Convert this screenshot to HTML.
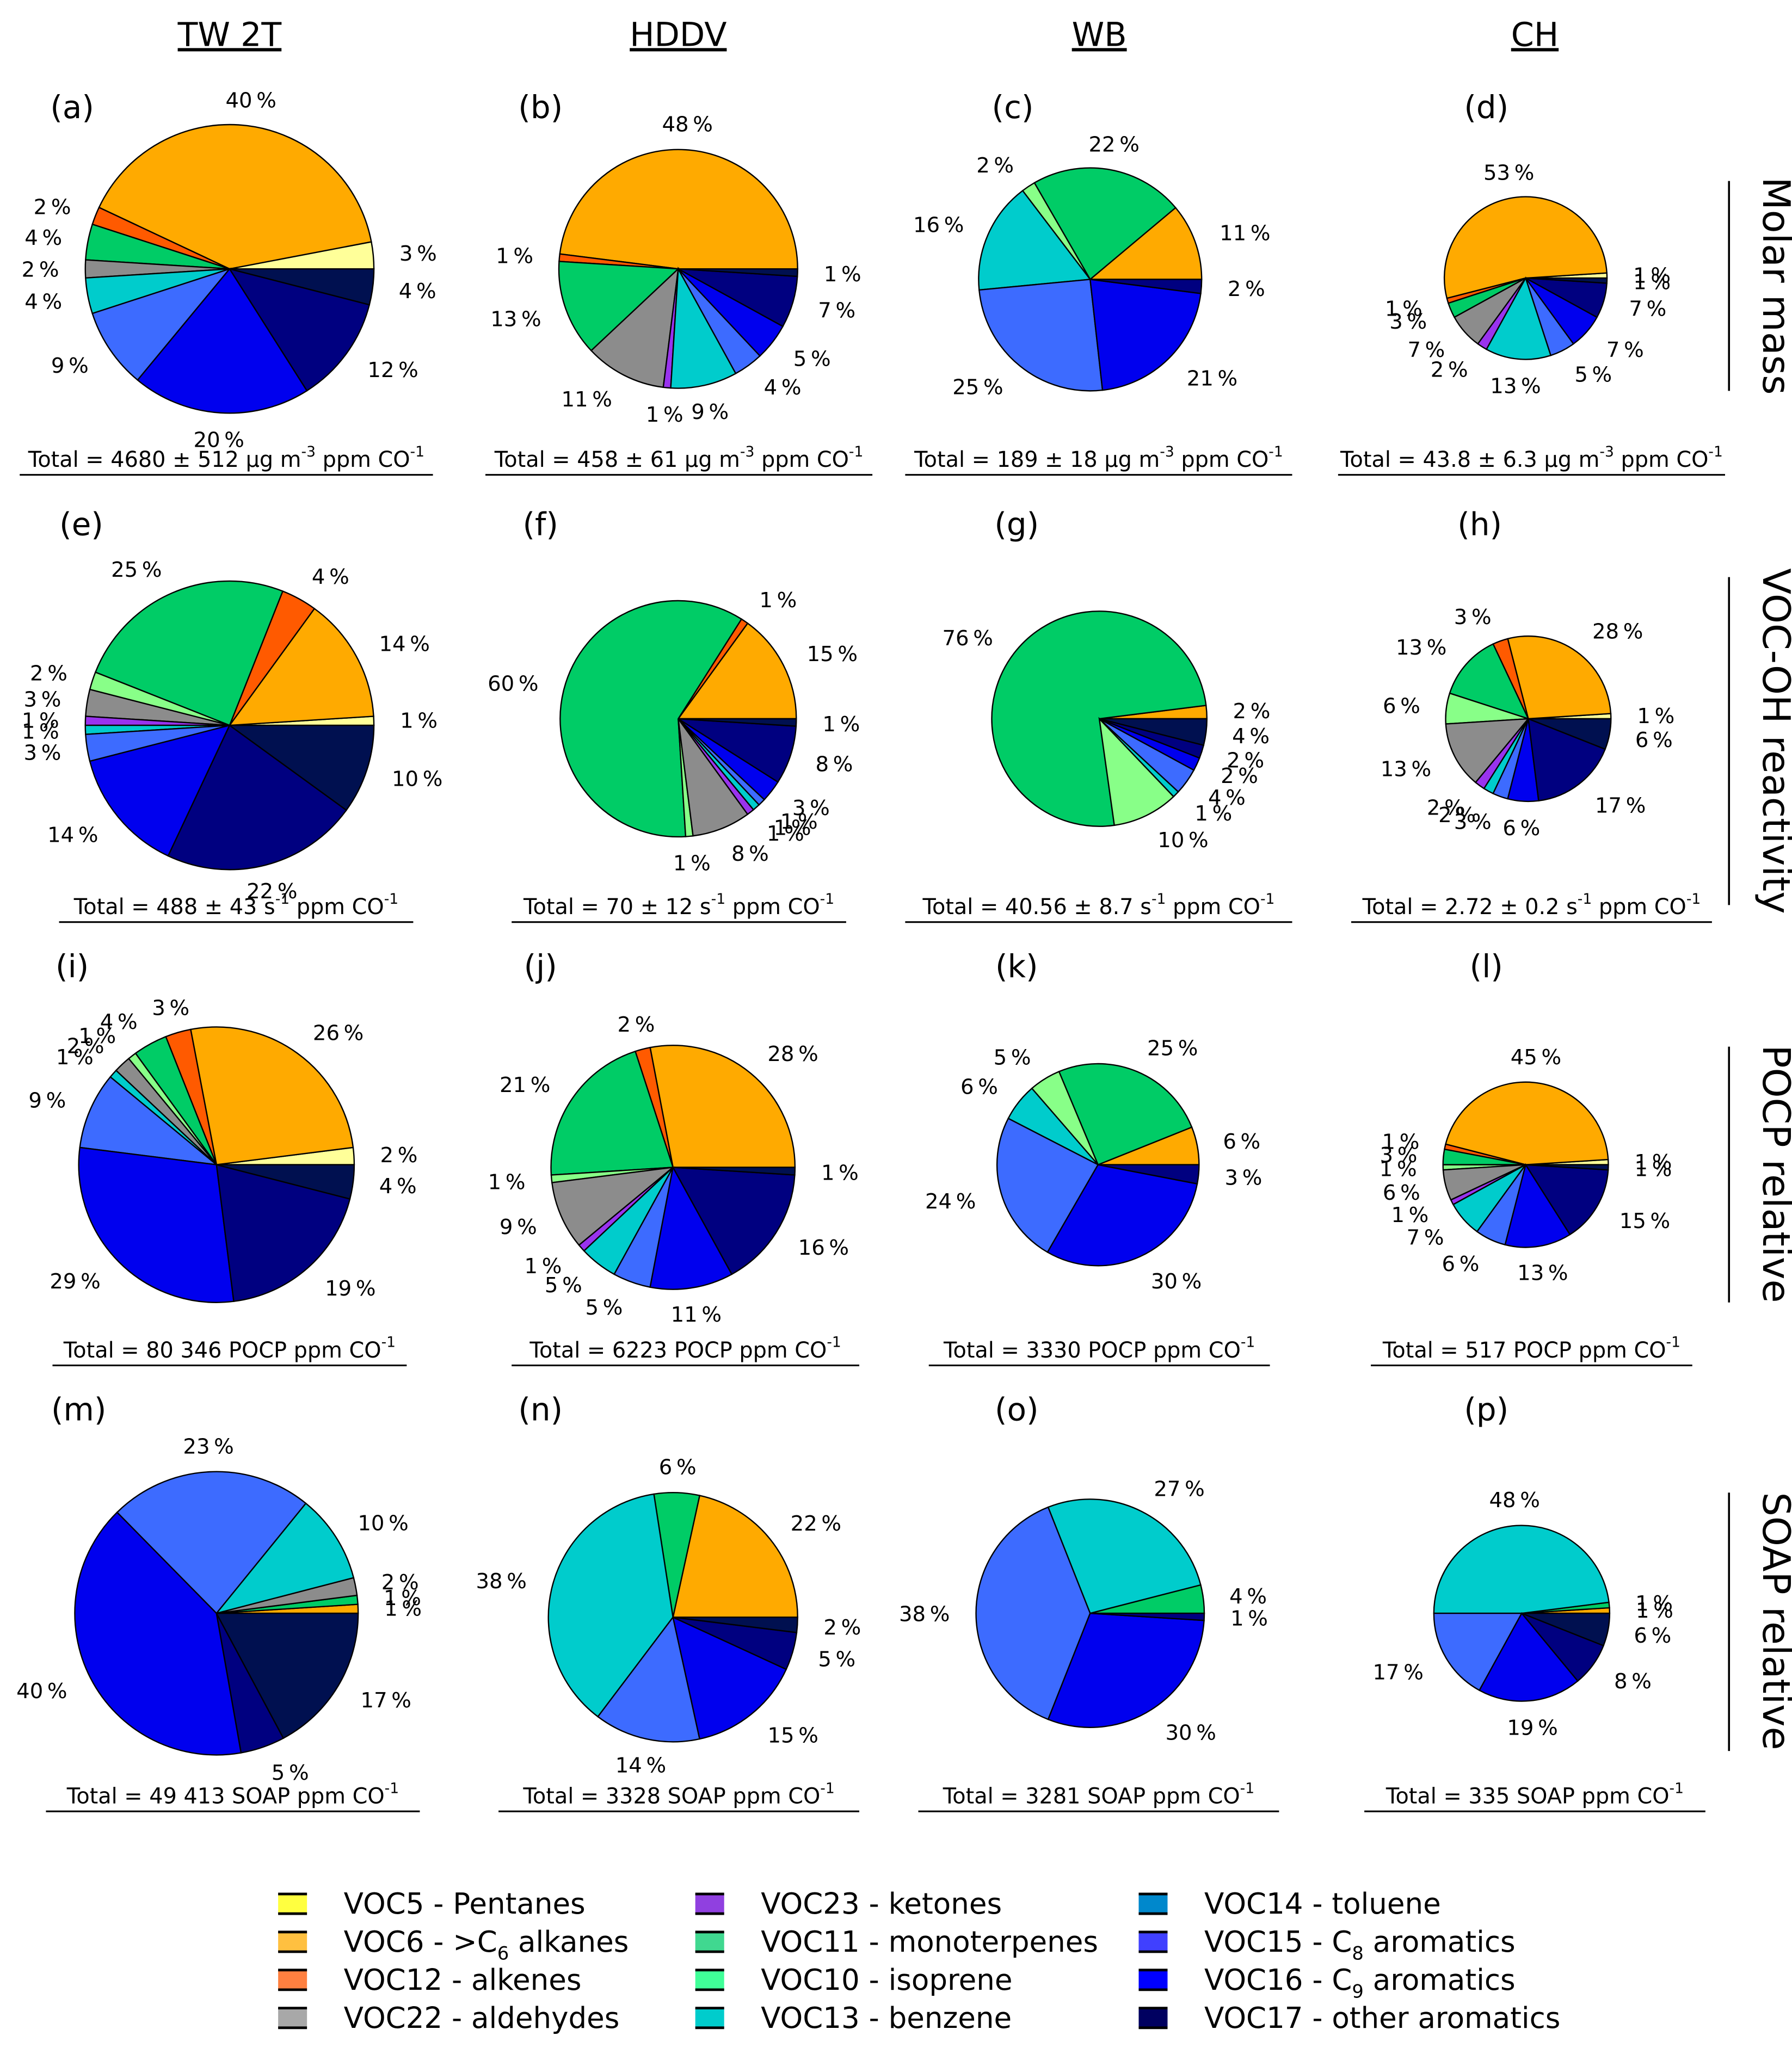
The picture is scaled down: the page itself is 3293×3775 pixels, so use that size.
<!DOCTYPE html>
<html><head><meta charset="utf-8"><style>
html,body{margin:0;padding:0;background:#fff}
svg{display:block}
text{font-family:"DejaVu Sans","Liberation Sans",sans-serif}
</style></head><body>
<svg id="fig" width="3293" height="3775" viewBox="0 0 1366 1566" xmlns="http://www.w3.org/2000/svg">
<g id="headers">
<text x="175" y="35" font-size="25" text-anchor="middle" text-decoration="underline">TW 2T</text>
<text x="517" y="35" font-size="25" text-anchor="middle" text-decoration="underline">HDDV</text>
<text x="838" y="35" font-size="25" text-anchor="middle" text-decoration="underline">WB</text>
<text x="1170" y="35" font-size="25" text-anchor="middle" text-decoration="underline">CH</text>
</g>
<g id="rowtitles">
<text transform="translate(1344,218) rotate(90)" font-size="29" text-anchor="middle">Molar mass</text>
<line x1="1318" y1="138" x2="1318" y2="298" stroke="#000" stroke-width="1.5"/>
<text transform="translate(1344,565) rotate(90)" font-size="29" text-anchor="middle">VOC-OH reactivity</text>
<line x1="1318" y1="440" x2="1318" y2="690" stroke="#000" stroke-width="1.5"/>
<text transform="translate(1344,895) rotate(90)" font-size="29" text-anchor="middle">POCP relative</text>
<line x1="1318" y1="798" x2="1318" y2="993" stroke="#000" stroke-width="1.5"/>
<text transform="translate(1344,1236) rotate(90)" font-size="29" text-anchor="middle">SOAP relative</text>
<line x1="1318" y1="1138" x2="1318" y2="1335" stroke="#000" stroke-width="1.5"/>
</g>
<g id="pies"></g>
<g id="legend"></g>
</svg>
<script>
// order of components (counterclockwise from 3 o'clock)
const categories = ["VOC5","VOC6","VOC12","VOC11","VOC10","VOC22","VOC23","VOC13","VOC15","VOC16","VOC14","VOC17"];
const pieColors = ["#ffff99","#ffaa00","#ff5a00","#00cc66","#88ff88","#8c8c8c","#9933ee","#00cccc","#3d6bff","#0000ee","#000080","#001050"];
const panelLetters = ["a","b","c","d","e","f","g","h","i","j","k","l","m","n","o","p"];
const valuesA = [3,40,2,4,0,2,0,4,9,20,12,4];
const valuesB = [0,48,1,13,0,11,1,9,4,5,7,1];
const valuesC = [0,11,0,22,2,0,0,16,25,21,2,0];
const valuesD = [1,53,1,3,0,7,2,13,5,7,7,1];
const valuesE = [1,14,4,25,2,3,1,1,3,14,22,10];
const valuesF = [0,15,1,60,1,8,1,1,1,3,8,1];
const valuesG = [0,2,0,76,10,0,0,1,4,2,2,4];
const valuesH = [1,28,3,13,6,13,2,2,3,6,17,6];
const valuesI = [2,26,3,4,1,2,0,1,9,29,19,4];
const valuesJ = [0,28,2,21,1,9,1,5,5,11,16,1];
const valuesK = [0,6,0,25,5,0,0,6,24,30,3,0];
const valuesL = [1,45,1,3,1,6,1,7,6,13,15,1];
const valuesM = [0,1,0,1,0,2,0,10,23,40,5,17];
const valuesN = [0,22,0,6,0,0,0,38,14,15,5,2];
const valuesO = [0,0,0,4,0,0,0,27,38,30,1,0];
const valuesP = [0,1,0,1,0,0,0,48,17,19,8,6];
const totals = [
 ["Total = 4680 ± 512 µg m","-3"," ppm CO","-1"],["Total = 458 ± 61 µg m","-3"," ppm CO","-1"],["Total = 189 ± 18 µg m","-3"," ppm CO","-1"],["Total = 43.8 ± 6.3 µg m","-3"," ppm CO","-1"],
 ["Total = 488 ± 43 s","-1"," ppm CO","-1"],["Total = 70 ± 12 s","-1"," ppm CO","-1"],["Total = 40.56 ± 8.7 s","-1"," ppm CO","-1"],["Total = 2.72 ± 0.2 s","-1"," ppm CO","-1"],
 ["Total = 80 346 POCP ppm CO","-1","",""],["Total = 6223 POCP ppm CO","-1","",""],["Total = 3330 POCP ppm CO","-1","",""],["Total = 517 POCP ppm CO","-1","",""],
 ["Total = 49 413 SOAP ppm CO","-1","",""],["Total = 3328 SOAP ppm CO","-1","",""],["Total = 3281 SOAP ppm CO","-1","",""],["Total = 335 SOAP ppm CO","-1","",""]
];
const legendLabels = [["VOC5 - Pentanes"],["VOC6 - >C","6"," alkanes"],["VOC12 - alkenes"],["VOC22 - aldehydes"],["VOC23 - ketones"],["VOC11 - monoterpenes"],["VOC10 - isoprene"],["VOC13 - benzene"],["VOC14 - toluene"],["VOC15 - C","8"," aromatics"],["VOC16 - C","9"," aromatics"],["VOC17 - other aromatics"]];
const legendColors = ["#ffff40","#ffc040","#ff8040","#a8a8a8","#9040e0","#40d890","#40ff98","#00cccc","#0088cc","#4040ff","#0000ff","#000060"];

const allValues=[valuesA,valuesB,valuesC,valuesD,valuesE,valuesF,valuesG,valuesH,valuesI,valuesJ,valuesK,valuesL,valuesM,valuesN,valuesO,valuesP];
// layout
const geo=[[175,205,110],[517,205,91],[831,213,85],[1163,212,62],
[175,553,110],[517,548,90],[838,548,82],[1165,548,63],
[165,888,105],[513,890,93],[837,888,77],[1163,888,63],
[165,1230,108],[513,1233,95],[831,1230,87],[1160,1230,67]];
const letterPos=[[55,90],[412,90],[772,90],[1133,90],[62,408],[412,408],[775,408],[1128,408],[55,745],[412,745],[775,745],[1133,745],[60,1083],[412,1083],[775,1083],[1133,1083]];
const rulePos=[[15,330,362],[370,665,362],[690,985,362],[1020,1315,362],[45,315,703],[390,645,703],[690,985,703],[1030,1305,703],[40,310,1041],[390,655,1041],[708,968,1041],[1045,1290,1041],[35,320,1381],[380,655,1381],[700,975,1381],[1040,1300,1381]];
const NS="http://www.w3.org/2000/svg";
const pies=document.getElementById('pies');
function mk(t,attrs,parent){const e=document.createElementNS(NS,t);for(const k in attrs)e.setAttribute(k,attrs[k]);parent.appendChild(e);return e;}
function pt(cx,cy,r,a){return [cx+r*Math.cos(a),cy-r*Math.sin(a)];}
allValues.forEach((vals,p)=>{
  const [cx,cy,r]=geo[p];
  const g=mk('g',{},pies);
  
  
  const tot=vals.reduce((s,v)=>s+v,0);
  let a=0;
  const labs=[];
  vals.forEach((v,i)=>{
    if(v<=0)return;
    const sw=v/tot*2*Math.PI;
    const [x1,y1]=pt(cx,cy,r,a),[x2,y2]=pt(cx,cy,r,a+sw);
    const path=mk('path',{d:`M${cx},${cy} L${x1},${y1} A${r},${r} 0 ${sw>Math.PI?1:0} 0 ${x2},${y2} Z`,fill:pieColors[i],stroke:'#000','stroke-width':1},g);
    
    
    const m=a+sw/2;
    const [lx,ly]=pt(cx,cy,r+20,m);
    labs.push([lx,ly,v,m]);
    a+=sw;
  });
  labs.forEach(([lx,ly,v,m])=>{
    const c=Math.cos(m);
    const t=mk('text',{x:lx,y:ly+6,'font-size':16,'text-anchor':c>0.3?'start':(c<-0.3?'end':'middle')},g);
    
    
    t.textContent=v+'\u2009%';
  });
  const [lx,ly]=letterPos[p];
  const lt=mk('text',{x:lx,y:ly,'font-size':24,'text-anchor':'middle'},g);
  
  
  lt.textContent='('+panelLetters[p]+')';
  const [rx1,rx2,ry]=rulePos[p];
  const tt=mk('text',{x:(rx1+rx2)/2,y:ry-6,'font-size':16.5,'text-anchor':'middle'},g);
  
  
  const parts=totals[p];
  parts.forEach((s,k)=>{ if(!s)return; const ts=mk('tspan',{},tt); if(k%2===1){ts.setAttribute('font-size','11');ts.setAttribute('dy','-8');} else if(k>0){ts.setAttribute('dy','8');} ts.textContent=s;});
  const ln=mk('line',{x1:rx1,x2:rx2,y1:ry,y2:ry,stroke:'#000','stroke-width':1.3},g);
  
  
});
const leg=document.getElementById('legend');
legendLabels.forEach((lab,i)=>{
  const col=Math.floor(i/4),row=i%4;
  const x=[212,530,868][col],y=1444+row*29;
  const g=mk('g',{},leg);
  
  
  mk('rect',{x:x,y:y,width:22,height:15,fill:legendColors[i],stroke:'none'},g);
  mk('line',{x1:x,x2:x+22,y1:y,y2:y,stroke:'#000','stroke-width':2},g);
  mk('line',{x1:x,x2:x+22,y1:y+15,y2:y+15,stroke:'#000','stroke-width':2},g);
  const t=mk('text',{x:x+50,y:y+15,'font-size':22},g);
  lab.forEach((s,k)=>{const ts=mk('tspan',{},t); if(k===1){ts.setAttribute('font-size','14');ts.setAttribute('dy','6');} else if(k===2){ts.setAttribute('dy','-6');} ts.textContent=s;});
});
</script>
</body></html>
